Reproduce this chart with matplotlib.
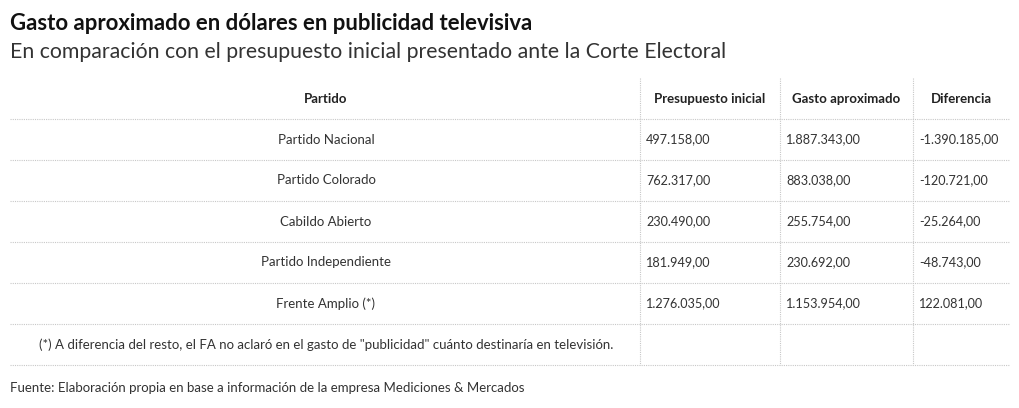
import matplotlib
matplotlib.use('Agg')
from matplotlib import pyplot as plt

plt.rcParams['font.family'] = ['Lato', 'DejaVu Sans']

partidos = ['Partido Nacional', 'Partido Colorado', 'Cabildo Abierto',
            'Partido Independiente', 'Frente Amplio (*)']
presupuesto = [497158.00, 762317.00, 230490.00, 181949.00, 1276035.00]
gasto = [1887343.00, 883038.00, 255754.00, 230692.00, 1153954.00]
diferencia = [-1390185.00, -120721.00, -25264.00, -48743.00, 122081.00]
columnas = ['Partido', 'Presupuesto inicial', 'Gasto aproximado', 'Diferencia']
nota = '(*) A diferencia del resto, el FA no aclaró en el gasto de "publicidad" cuánto destinaría en televisión.'
titulo = 'Gasto aproximado en dólares en publicidad televisiva'
subtitulo = 'En comparación con el presupuesto inicial presentado ante la Corte Electoral'
fuente = 'Fuente: Elaboración propia en base a información de la empresa Mediciones & Mercados'


def fmt(v):
    s = '{:,.2f}'.format(v)
    return s.replace(',', 'X').replace('.', ',').replace('X', '.')


fig = plt.figure(figsize=(10.2, 4.08), dpi=100)
ax = fig.add_axes([0, 0, 1, 1])
ax.set_xlim(0, 1020)
ax.set_ylim(408, 0)
ax.axis('off')

txt = '#333333'
grid = '#c8c8c8'

ax.text(10, 24, titulo, fontsize=15.9, fontweight='bold', color='#111111', va='center')
ax.text(10, 52, subtitulo, fontsize=15.3, color='#333333', va='center')

# table geometry
left, right = 10, 1010
col_x = [10, 640, 780, 913, 1010]
header_top = 78
row_h = 41
hline_y = [119 + i * row_h for i in range(7)]

for y in hline_y:
    ax.plot([left, right], [y, y], color=grid, lw=0.8, ls=(0, (1, 1)))
for x in col_x[1:4]:
    ax.plot([x, x], [header_top, hline_y[-1]], color=grid, lw=0.8, ls=(0, (1, 1)))

# header
hy = 99
for i, c in enumerate(columnas):
    cx = (col_x[i] + col_x[i + 1]) / 2
    if i == 0:
        cx = 326
    ax.text(cx, hy, c, fontsize=9.5, fontweight='bold', color='#222222',
            ha='center', va='center')

# rows
for r, p in enumerate(partidos):
    y = hline_y[r] + row_h / 2
    ax.text(326, y, p, fontsize=9.5, color=txt, ha='center', va='center')
    for j, vals in enumerate([presupuesto, gasto, diferencia]):
        ax.text(col_x[j + 1] + 6, y, fmt(vals[r]), fontsize=9.1, color=txt,
                ha='left', va='center')

ax.text(326, hline_y[5] + row_h / 2, nota, fontsize=9.5, color=txt,
        ha='center', va='center')

ax.text(10, 388, fuente, fontsize=9.5, color=txt, ha='left', va='center')

fig.savefig('out.png', dpi=100)
